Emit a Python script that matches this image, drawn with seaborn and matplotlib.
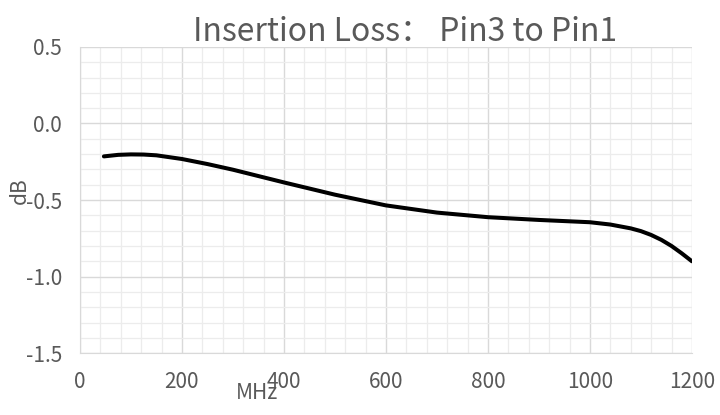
import numpy as np
import pandas as pd
import seaborn as sns
import matplotlib.pyplot as plt
from matplotlib.ticker import MultipleLocator

# values
freq_mhz = [47, 75, 100, 125, 150, 200, 250, 300, 400, 500, 600, 700, 800, 900, 1000,
            1040, 1080, 1100, 1120, 1140, 1160, 1180, 1200]
loss_db = [-0.215, -0.205, -0.202, -0.203, -0.208, -0.232, -0.265, -0.302, -0.385, -0.465, -0.535,
           -0.582, -0.612, -0.630, -0.645, -0.660, -0.685, -0.703, -0.728, -0.760, -0.800, -0.848, -0.900]

sns.set_style("white")
plt.rcParams['font.family'] = ['Noto Sans CJK SC', 'DejaVu Sans']

df = pd.DataFrame({"MHz": freq_mhz, "dB": loss_db})

fig = plt.figure(figsize=(7.2, 4.15), dpi=100)
ax = fig.add_axes([0.111, 0.149, 0.85, 0.738])

ax.xaxis.set_major_locator(MultipleLocator(200))
ax.xaxis.set_minor_locator(MultipleLocator(40))
ax.yaxis.set_major_locator(MultipleLocator(0.5))
ax.yaxis.set_minor_locator(MultipleLocator(0.1))
ax.grid(which="major", color="#d9d9d9", linewidth=1.0)
ax.grid(which="minor", color="#ececec", linewidth=0.9)
ax.set_axisbelow(True)

sns.lineplot(data=df, x="MHz", y="dB", ax=ax, color="black", linewidth=2.9)

ax.set_xlim(0, 1200)
ax.set_ylim(-1.5, 0.5)
ax.yaxis.set_major_formatter(plt.FuncFormatter(lambda v, p: f"{v:.1f}"))

for s in ["top", "right"]:
    ax.spines[s].set_visible(False)
for s in ["left", "bottom"]:
    ax.spines[s].set_color("#d9d9d9")
ax.tick_params(which="both", length=0, labelsize=15, labelcolor="#595959", pad=13)

ax.set_title("Insertion Loss： Pin3 to Pin1", fontsize=23, color="#595959", pad=4, x=0.531)
ax.set_xlabel("MHz", fontsize=15, color="#595959")
ax.set_ylabel("dB", fontsize=15, color="#595959")
ax.xaxis.set_label_coords(0.29, -0.095)
ax.yaxis.set_label_coords(-0.08, 0.53)

plt.savefig("out.png", dpi=100)
